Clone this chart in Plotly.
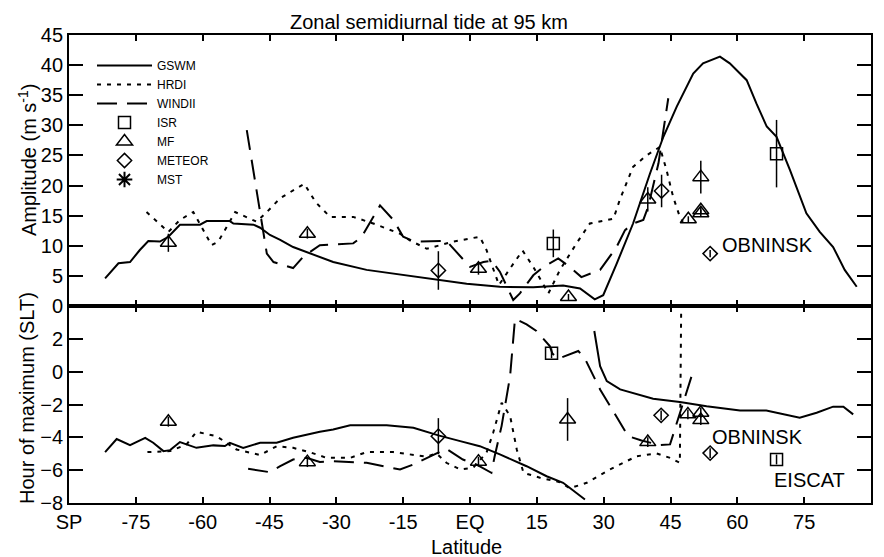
import plotly.graph_objects as go

# ---------------- data ----------------
lat_ticks = [-90, -75, -60, -45, -30, -15, 0, 15, 30, 45, 60, 75, 90]
lat_tick_text = ["SP", "-75", "-60", "-45", "-30", "-15", "EQ", "15", "30", "45", "60", "75", "NP"]
amp_ticks = [0, 5, 10, 15, 20, 25, 30, 35, 40, 45]
phase_ticks = [-8, -6, -4, -2, 0, 2]

# Amplitude panel
gswm_amp_lat = [-81.9, -78.9, -76.3, -74.1, -72.2, -69.6, -67.7, -65.1, -60.6, -59.1, -53.9, -53.1,
                -48.6, -47.1, -44.9, -42.6, -39.7, -36.7, -33.7, -30.7, -23.2, -15.7, -7.1, -0.75,
                6.7, 14.2, 20.9, 24.7, 28.0, 29.9, 32.9, 36.6, 40.4, 43.4, 46.4, 50.1, 52.3, 56.1,
                58.3, 62.1, 64.3, 66.6, 68.8, 71.8, 75.5, 78.5, 81.5, 84.1, 86.8]
gswm_amp = [4.6, 7.1, 7.3, 9.3, 10.8, 10.7, 11.5, 13.5, 13.5, 14.1, 14.1, 13.7,
            13.5, 13.0, 11.8, 11.0, 9.8, 9.0, 8.2, 7.3, 6.0, 5.2, 4.4, 3.7,
            3.2, 3.1, 3.4, 2.9, 1.1, 1.8, 7.0, 13.7, 22.0, 28.1, 33.1, 38.6, 40.3, 41.4,
            40.3, 37.5, 33.6, 29.8, 28.1, 22.6, 15.4, 12.3, 9.8, 6.0, 3.2]

hrdi_amp_lat = [-72.6, -67.7, -65.1, -62.1, -58.0, -56.5, -52.7, -47.9, -45.6, -42.6, -37.2, -34.6,
                -31.4, -26.2, -21.7, -15.7, -13.5, -9.7, -3.8, 2.2, 3.7, 6.5, 9.7, 11.8, 14.2,
                17.6, 20.2, 23.9, 26.9, 32.2, 33.6, 36.6, 39.6, 42.6, 44.1, 45.6, 47.1, 47.8]
hrdi_amp = [15.6, 12.3, 14.3, 15.6, 10.1, 10.7, 15.6, 14.0, 15.6, 17.9, 20.3, 17.2,
            14.8, 14.8, 13.7, 12.0, 10.9, 9.5, 10.7, 11.5, 9.3, 3.5, 7.0, 9.2, 6.5,
            2.1, 6.0, 10.4, 13.7, 14.5, 17.6, 23.1, 25.0, 26.4, 22.6, 18.1, 14.8, 14.0]

windii_amp_lat = [-50.1, -45.6, -44.1, -39.7, -37.4, -33.7, -26.2, -24.3, -20.2, -17.2, -15.0, -12.4,
                  -5.3, -3.0, 0.0, 3.0, 4.9, 6.7, 9.7, 11.2, 14.2, 16.5, 19.8, 22.4, 25.0, 29.2,
                  32.9, 34.8, 36.6, 38.9, 40.0, 42.3, 44.5]
windii_amp = [29.2, 8.7, 7.3, 6.3, 8.2, 10.1, 10.4, 11.5, 16.7, 14.3, 11.5, 10.7,
              10.8, 9.0, 6.5, 7.3, 7.5, 5.7, 1.0, 2.1, 5.1, 6.5, 7.9, 6.5, 4.8, 6.0,
              9.8, 12.6, 13.7, 14.3, 16.5, 23.7, 34.5]

isr_amp_lat = [18.7, 68.8]
isr_amp = [10.4, 25.3]
isr_amp_err = [2.3, 5.6]

mf_amp_lat = [-67.7, -36.5, 1.9, 22.1, 39.9, 49.0, 51.8, 51.8, 51.8]
mf_amp = [10.5, 12.0, 6.2, 1.5, 17.7, 14.4, 21.4, 15.4, 15.9]
mf_amp_err = [1.5, 0.8, 1.0, 0.5, 2.0, 0.5, 2.7, 0.6, 0.5]

met_amp_lat = [-7.1, 43.0, 53.9]
met_amp = [5.9, 19.1, 8.7]
met_amp_err = [3.2, 2.7, 0.6]

# Phase panel (hour of maximum, SLT)
gswm_ph_lat = [-81.9, -79.3, -76.3, -72.9, -71.1, -68.8, -67.3, -65.1, -61.4, -57.6, -55.0, -53.9,
               -50.9, -47.1, -43.4, -39.7, -33.7, -30.7, -26.9, -18.7, -12.7, -7.1, -2.2, 2.2,
               6.7, 12.7, 17.2, 20.9, 25.8, None,
               27.9, 29.2, 30.7, 33.7, 41.1, 47.1, 53.1, 60.6, 66.5, 70.3, 74.0, 77.8, 81.5,
               83.8, 86.0]
gswm_ph = [-4.9, -4.1, -4.47, -4.03, -4.33, -4.84, -4.78, -4.29, -4.64, -4.49, -4.53, -4.33,
           -4.64, -4.33, -4.33, -4.03, -3.66, -3.52, -3.27, -3.27, -3.42, -3.88, -4.23, -4.54,
           -5.04, -5.76, -6.37, -6.77, -7.79, None,
           2.48, 0.34, -0.57, -1.08, -1.65, -1.85, -2.1, -2.36, -2.36, -2.6, -2.8, -2.5, -2.13,
           -2.13, -2.6]

hrdi_ph_lat = [-72.4, -67.3, -63.6, -61.4, -56.9, -52.4, -47.1, -43.4, -39.7, -36.0, -32.2, -26.9,
               -23.2, -17.2, -9.7, -7.5, -5.3, -2.2, 0.75, 3.7, 5.2, 7.1, 9.0, 10.5, 12.0, 15.7,
               20.2, 22.4, 26.2, 31.4, 37.4, 41.9, 44.9, 47.1, 47.4]
hrdi_ph = [-4.9, -4.84, -4.43, -3.66, -3.93, -4.74, -5.08, -4.54, -4.64, -4.9, -5.25, -5.25,
           -4.9, -4.9, -5.18, -4.98, -5.55, -5.96, -5.85, -4.94, -3.72, -1.89, -2.7, -4.74, -6.16, -6.46,
           -6.73, -7.1, -6.77, -5.96, -5.15, -4.98, -5.25, -5.55, 4.0]

windii_ph_lat = [-49.8, -45.0, -42.6, -39.7, -36.7, -33.7, -30.7, -23.2, -15.7, -12.7, -7.5, -5.3,
                 -1.6, 1.4, 4.8, 5.5, 7.1, 9.0, 10.1, 12.7, 14.9, 17.9, 18.5, 19.8, 24.3, 25.8,
                 29.2, 33.7, 35.5, 38.5, 42.6, 44.9, 50.1]
windii_ph = [-5.91, -6.12, -5.76, -5.35, -5.25, -5.5, -5.45, -5.55, -5.96, -5.65, -4.98, -4.7,
             -5.35, -5.65, -6.16, -5.2, -3.3, -0.27, 3.23, 2.88, 2.48, 1.56, 1.1, 0.79, 1.26, 0.79,
             -1.08, -3.1, -3.93, -4.19, -4.47, -4.43, 0.04]

isr_ph_lat = [18.3, 68.8]
isr_ph = [1.12, -5.35]
isr_ph_err = [0.3, 0.3]

mf_ph_lat = [-67.7, -36.5, 1.9, 21.9, 39.9, 48.9, 51.8, 51.8]
mf_ph = [-3.05, -5.51, -5.48, -2.91, -4.29, -2.6, -2.5, -2.95]
mf_ph_err = [0.3, 0.3, 0.3, 1.3, 0.3, 0.3, 0.3, 0.3]

met_ph_lat = [-7.1, 42.9, 53.9]
met_ph = [-3.93, -2.66, -4.96]
met_ph_err = [1.1, 0.3, 0.3]

# ---------------- figure ----------------
FONT = "Liberation Sans, Arial, sans-serif"
BLACK = "#000000"
LW = 2
FS = 20

def err(vals):
    return dict(type="data", array=vals, visible=True, color=BLACK, thickness=1.5, width=0)

fig = go.Figure()

# upper panel
fig.add_trace(go.Scatter(x=gswm_amp_lat, y=gswm_amp, mode="lines", name="GSWM",
                         line=dict(color=BLACK, width=LW), xaxis="x", yaxis="y"))
fig.add_trace(go.Scatter(x=hrdi_amp_lat, y=hrdi_amp, mode="lines", name="HRDI",
                         line=dict(color=BLACK, width=LW, dash="4px,6px"), xaxis="x", yaxis="y"))
fig.add_trace(go.Scatter(x=windii_amp_lat, y=windii_amp, mode="lines", name="WINDII",
                         line=dict(color=BLACK, width=LW, dash="20px,10px"), xaxis="x", yaxis="y"))
fig.add_trace(go.Scatter(x=isr_amp_lat, y=isr_amp, mode="markers", name="ISR", error_y=err(isr_amp_err),
                         marker=dict(symbol="square-open", size=12, color=BLACK, line=dict(width=1.5, color=BLACK)),
                         xaxis="x", yaxis="y"))
fig.add_trace(go.Scatter(x=mf_amp_lat, y=mf_amp, mode="markers", name="MF", error_y=err(mf_amp_err),
                         marker=dict(symbol="triangle-up-open", size=14, color=BLACK, line=dict(width=1.5, color=BLACK)),
                         xaxis="x", yaxis="y"))
fig.add_trace(go.Scatter(x=met_amp_lat, y=met_amp, mode="markers", name="METEOR", error_y=err(met_amp_err),
                         marker=dict(symbol="diamond-open", size=11, color=BLACK, line=dict(width=1.5, color=BLACK)),
                         xaxis="x", yaxis="y"))
fig.add_trace(go.Scatter(x=[None], y=[None], mode="markers", name="MST",
                         marker=dict(symbol="asterisk-open", size=13, color=BLACK, line=dict(width=2, color=BLACK)),
                         xaxis="x", yaxis="y"))

# lower panel
fig.add_trace(go.Scatter(x=gswm_ph_lat, y=gswm_ph, mode="lines", showlegend=False,
                         line=dict(color=BLACK, width=LW), connectgaps=False, xaxis="x2", yaxis="y2"))
fig.add_trace(go.Scatter(x=hrdi_ph_lat, y=hrdi_ph, mode="lines", showlegend=False,
                         line=dict(color=BLACK, width=LW, dash="4px,6px"), xaxis="x2", yaxis="y2"))
fig.add_trace(go.Scatter(x=windii_ph_lat, y=windii_ph, mode="lines", showlegend=False,
                         line=dict(color=BLACK, width=LW, dash="20px,10px"), xaxis="x2", yaxis="y2"))
fig.add_trace(go.Scatter(x=isr_ph_lat, y=isr_ph, mode="markers", showlegend=False, error_y=err(isr_ph_err),
                         marker=dict(symbol="square-open", size=12, color=BLACK, line=dict(width=1.5, color=BLACK)),
                         xaxis="x2", yaxis="y2"))
fig.add_trace(go.Scatter(x=mf_ph_lat, y=mf_ph, mode="markers", showlegend=False, error_y=err(mf_ph_err),
                         marker=dict(symbol="triangle-up-open", size=14, color=BLACK, line=dict(width=1.5, color=BLACK)),
                         xaxis="x2", yaxis="y2"))
fig.add_trace(go.Scatter(x=met_ph_lat, y=met_ph, mode="markers", showlegend=False, error_y=err(met_ph_err),
                         marker=dict(symbol="diamond-open", size=11, color=BLACK, line=dict(width=1.5, color=BLACK)),
                         xaxis="x2", yaxis="y2"))

split = 0.4209
axis_common = dict(showline=True, linewidth=1.8, linecolor=BLACK, mirror="ticks", ticks="inside",
                   tickcolor=BLACK, tickwidth=1.5, showgrid=False, zeroline=False,
                   tickfont=dict(family=FONT, size=FS, color=BLACK))

fig.update_layout(
    width=884, height=557,
    margin=dict(l=69, r=13, t=35, b=54, pad=0),
    paper_bgcolor="white", plot_bgcolor="white",
    font=dict(family=FONT, size=FS, color=BLACK),
    title=dict(text="Zonal semidiurnal tide at 95 km", x=429 / 884, xanchor="center",
               y=1 - 22 / 557, yanchor="middle", font=dict(family=FONT, size=FS, color=BLACK)),
    xaxis=dict(domain=[0, 1], anchor="y", range=[-90, 90], tickvals=lat_ticks,
               showticklabels=False, ticklen=6, **axis_common),
    yaxis=dict(domain=[split, 1], anchor="x", range=[0, 45], tickvals=amp_ticks, ticklen=14, **axis_common),
    xaxis2=dict(domain=[0, 1], anchor="y2", range=[-90, 90], tickvals=lat_ticks, ticktext=lat_tick_text,
                ticklen=6, **axis_common),
    yaxis2=dict(domain=[0, split], anchor="x2", range=[-8, 4], tickvals=phase_ticks, ticklen=14, **axis_common),
    legend=dict(x=(92 - 69) / 802, y=(503 - 51) / 468, xanchor="left", yanchor="top",
                bgcolor="rgba(0,0,0,0)", borderwidth=0, itemwidth=55,
                font=dict(family=FONT, size=12, color=BLACK), tracegroupgap=0),
    showlegend=True,
)

annotations = [
    dict(text="Amplitude (m s<sup>-1</sup>)", xref="paper", yref="paper", x=(27 - 69) / 802, y=(503 - 160) / 468,
         textangle=-90, showarrow=False, xanchor="center", yanchor="middle", font=dict(size=FS)),
    dict(text="Hour of maximum (SLT)", xref="paper", yref="paper", x=(27 - 69) / 802, y=(503 - 398) / 468,
         textangle=-90, showarrow=False, xanchor="center", yanchor="middle", font=dict(size=FS)),
    dict(text="Latitude", xref="paper", yref="paper", x=(466 - 69) / 802, y=(503 - 547) / 468,
         showarrow=False, xanchor="center", yanchor="middle", font=dict(size=FS)),
    dict(text="OBNINSK", xref="x", yref="y", x=56.0, y=10.1, showarrow=False,
         xanchor="left", yanchor="middle", font=dict(size=FS)),
    dict(text="OBNINSK", xref="x2", yref="y2", x=53.9, y=-3.97, showarrow=False,
         xanchor="left", yanchor="middle", font=dict(size=FS)),
    dict(text="EISCAT", xref="x2", yref="y2", x=67.7, y=-6.57, showarrow=False,
         xanchor="left", yanchor="middle", font=dict(size=FS)),
]
fig.update_layout(annotations=annotations)

fig.write_html("out.html", config={"displayModeBar": False},
               post_script="document.body.style.margin='0';document.body.style.overflow='hidden';")
